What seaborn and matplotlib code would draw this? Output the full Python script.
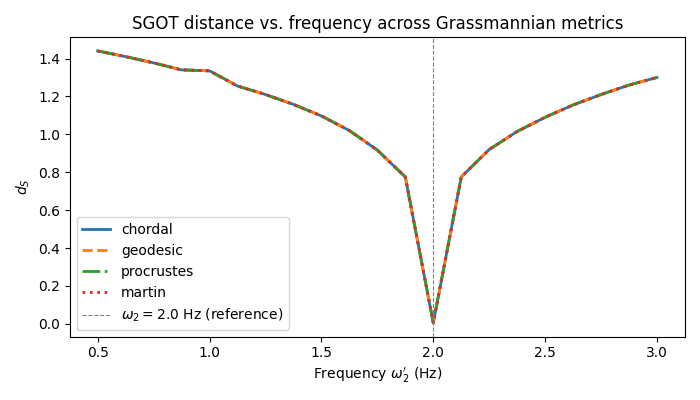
import numpy as np
import pandas as pd
import matplotlib
matplotlib.use("Agg")
import matplotlib.pyplot as plt
import seaborn as sns

# frequencies (Hz) and SGOT distance
freqs = [0.5, 0.625, 0.75, 0.875, 1.0, 1.125, 1.25, 1.375, 1.5, 1.625, 1.75,
         1.875, 2.0, 2.125, 2.25, 2.375, 2.5, 2.625, 2.75, 2.875, 3.0]
d_s = [1.44, 1.41, 1.377, 1.34, 1.335, 1.255, 1.21, 1.158, 1.097, 1.02, 0.917,
       0.775, 0.005, 0.775, 0.92, 1.015, 1.09, 1.155, 1.21, 1.26, 1.30]
metrics = ["chordal", "geodesic", "procrustes", "martin"]
ref_freq = 2.0

styles = {
    "chordal": dict(color="#1f77b4", linestyle="-"),
    "geodesic": dict(color="#ff7f0e", linestyle="--"),
    "procrustes": dict(color="#2ca02c", linestyle="-."),
    "martin": dict(color="#e8262a", linestyle=":"),
}

df = pd.DataFrame({
    "freq": np.tile(freqs, len(metrics)),
    "d_s": np.tile(d_s, len(metrics)),
    "metric": np.repeat(metrics, len(freqs)),
})

fig, ax = plt.subplots(figsize=(7, 4), dpi=100)
for m in metrics:
    sub = df[df["metric"] == m]
    sns.lineplot(data=sub, x="freq", y="d_s", ax=ax, label=m, linewidth=2,
                 **styles[m])
ax.axvline(ref_freq, color="gray", linestyle="--", linewidth=0.8,
           label=r"$\omega_2 = 2.0$ Hz (reference)")
ax.set_title("SGOT distance vs. frequency across Grassmannian metrics")
ax.set_xlabel(r"Frequency $\omega_2'$ (Hz)")
ax.set_ylabel(r"$d_S$")
ax.legend(loc="lower left")
plt.tight_layout()
plt.savefig("out.png", dpi=100)
plt.close()
